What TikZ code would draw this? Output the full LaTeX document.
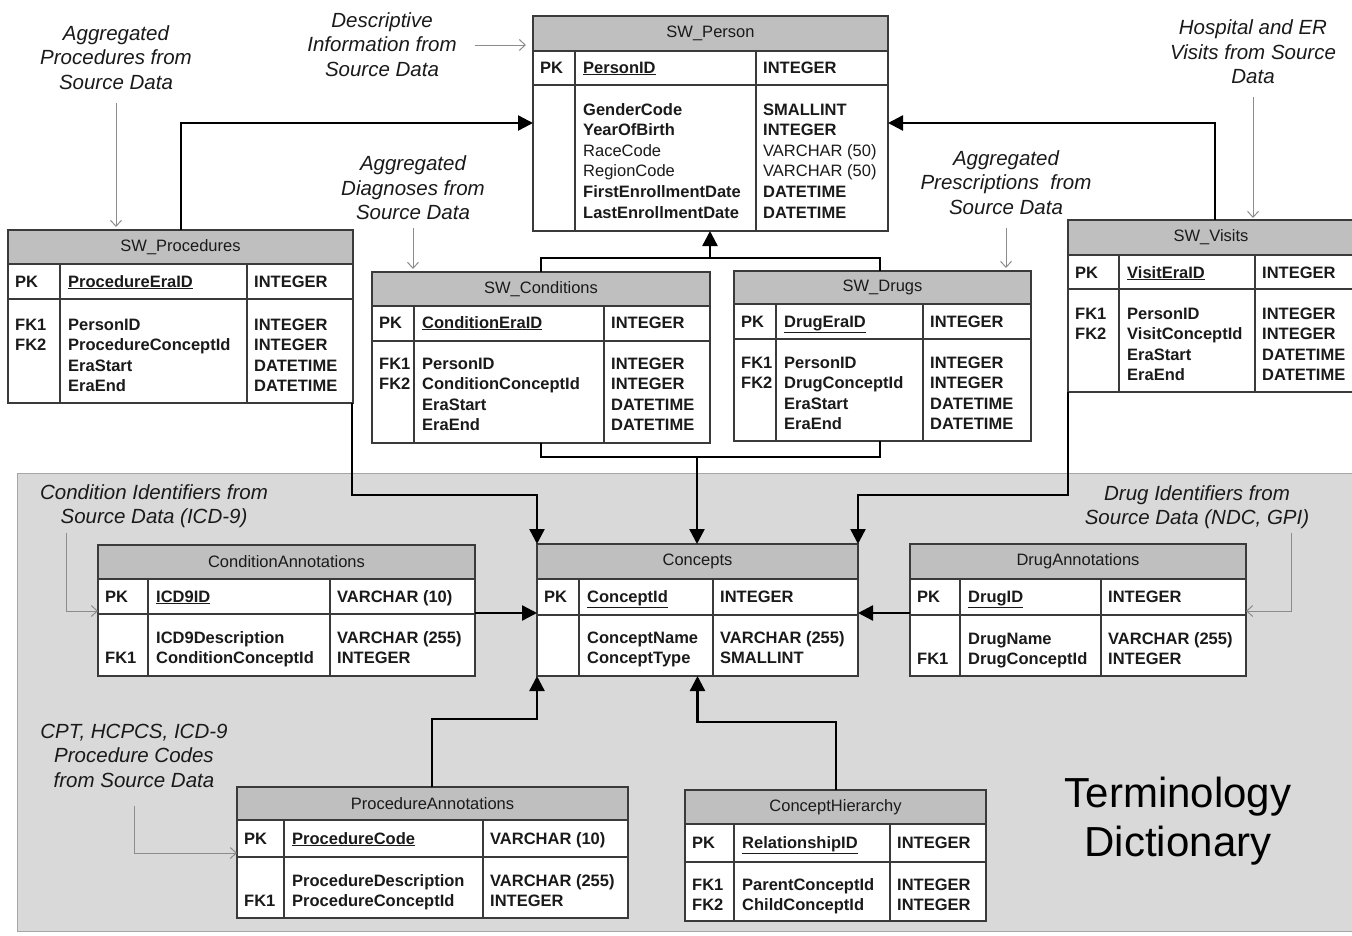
\documentclass[tikz,border=0pt]{standalone}
\usepackage{fontspec}
\setmainfont{Liberation Sans}
\usetikzlibrary{arrows.meta,fit}
\definecolor{bgfill}{HTML}{D9D9D9}
\definecolor{bgline}{HTML}{A6A6A6}
\definecolor{hdrfill}{HTML}{BFBFBF}
\definecolor{tlinec}{HTML}{3A3A3A}
\definecolor{garrow}{HTML}{8C8C8C}
\definecolor{ink}{HTML}{1A1A1A}
\tikzset{
  tline/.style={draw=tlinec, line width=1.4pt},
  conn/.style={draw=black, line width=2.4pt, -{Triangle[length=15pt,width=15pt]}},
  link/.style={draw=black, line width=2.4pt},
  inarr/.style={draw=garrow, line width=1pt, -{Straight Barb[length=6pt,width=11pt]}},
  ttitle/.style={font=\fontsize{16.5}{20}\selectfont, text=ink, inner sep=0pt},
  tcell/.style={font=\fontsize{16.5}{20.6}\selectfont\bfseries, text=ink, inner sep=0pt, anchor=base west},
  lbl/.style={font=\fontsize{20.5}{24.5}\selectfont\itshape, text=ink, align=center, inner sep=0pt},
  biglbl/.style={font=\fontsize{42}{49}\selectfont, text=black, align=center, inner sep=0pt},
}
\newcommand\erow[1]{\hbox{#1}}
\newcommand\erdtab[9]{%
  \node[fit={(#2,#3) (#4,#5)}, inner sep=0pt, outer sep=0pt] (#1) {};
  \fill[white] (#2,#3) rectangle (#4,#5);
  \fill[hdrfill] (#2,#3) rectangle (#4,#6);
  \draw[tline] (#2,#6) -- (#4,#6) (#2,#7) -- (#4,#7) (#8,#6) -- (#8,#5) (#9,#6) -- (#9,#5);
  \draw[tline] (#2,#3) rectangle (#4,#5);
  \def\erdX{#2}\def\erdY{#3}\def\erdXX{#4}\def\erdYH{#6}\def\erdCA{#8}\def\erdCB{#9}%
}
\newcommand\erdtxt[9]{%
  \node[ttitle] (#1-t) at ({(\erdX+\erdXX)/2},{(\erdY+\erdYH)/2}) {#2};
  \node[tcell] (#1-k) at ({\erdX+7},#8) {PK};
  \node[tcell] (#1-f) at ({\erdCA+8},#8) {\underline{#3}};
  \node[tcell] (#1-y) at ({\erdCB+7},#8) {#4};
  \node[tcell] (#1-bk) at ({\erdX+7},#9) {\vtop{#5}};
  \node[tcell] (#1-bf) at ({\erdCA+8},#9) {\vtop{#6}};
  \node[tcell] (#1-by) at ({\erdCB+7},#9) {\vtop{#7}};
}
\begin{document}
\begin{tikzpicture}[x=1pt,y=-1pt]
\useasboundingbox (0,0) rectangle (1352,935);
\fill[white] (0,0) rectangle (1352,935);
\filldraw[fill=bgfill, draw=bgline, line width=1pt] (17,473) rectangle (1362,931);

% tables
\erdtab{person}{533}{16}{888}{231}{51}{85}{575}{756}
\erdtxt{person}{SW\_Person}{PersonID}{INTEGER}{}{\erow{GenderCode}\erow{YearOfBirth}\erow{\mdseries RaceCode}\erow{\mdseries RegionCode}\erow{FirstEnrollmentDate}\erow{LastEnrollmentDate}}{\erow{SMALLINT}\erow{INTEGER}\erow{\mdseries VARCHAR (50)}\erow{\mdseries VARCHAR (50)}\erow{DATETIME}\erow{DATETIME}}{73}{115}

\erdtab{proc}{8}{230}{353}{403}{264}{299}{60}{247}
\erdtxt{proc}{SW\_Procedures}{ProcedureEraID}{INTEGER}{\erow{FK1}\erow{FK2}}{\erow{PersonID}\erow{ProcedureConceptId}\erow{EraStart}\erow{EraEnd}}{\erow{INTEGER}\erow{INTEGER}\erow{DATETIME}\erow{DATETIME}}{287}{330}

\erdtab{cond}{372}{272}{710}{443}{306}{341}{414}{604}
\erdtxt{cond}{SW\_Conditions}{ConditionEraID}{INTEGER}{\erow{FK1}\erow{FK2}}{\erow{PersonID}\erow{ConditionConceptId}\erow{EraStart}\erow{EraEnd}}{\erow{INTEGER}\erow{INTEGER}\erow{DATETIME}\erow{DATETIME}}{328}{369}

\erdtab{drugs}{734}{271}{1031}{441}{304}{339}{776}{923}
\erdtxt{drugs}{SW\_Drugs}{DrugEraID}{INTEGER}{\erow{FK1}\erow{FK2}}{\erow{PersonID}\erow{DrugConceptId}\erow{EraStart}\erow{EraEnd}}{\erow{INTEGER}\erow{INTEGER}\erow{DATETIME}\erow{DATETIME}}{327}{368}

\erdtab{visits}{1068}{220}{1354}{392}{255}{289}{1119}{1255}
\erdtxt{visits}{SW\_Visits}{VisitEraID}{INTEGER}{\erow{FK1}\erow{FK2}}{\erow{PersonID}\erow{VisitConceptId}\erow{EraStart}\erow{EraEnd}}{\erow{INTEGER}\erow{INTEGER}\erow{DATETIME}\erow{DATETIME}}{278}{319}

\erdtab{concepts}{537}{544}{858}{676}{579}{615}{579}{713}
\erdtxt{concepts}{Concepts}{ConceptId}{INTEGER}{}{\erow{ConceptName}\erow{ConceptType}}{\erow{VARCHAR (255)}\erow{SMALLINT}}{602}{643}

\erdtab{condann}{98}{545}{475}{676}{579}{614}{148}{330}
\erdtxt{condann}{ConditionAnnotations}{ICD9ID}{VARCHAR (10)}{\erow{}\erow{FK1}}{\erow{ICD9Description}\erow{ConditionConceptId}}{\erow{VARCHAR (255)}\erow{INTEGER}}{602}{643}

\erdtab{drugann}{910}{544}{1246}{676}{579}{615}{960}{1101}
\erdtxt{drugann}{DrugAnnotations}{DrugID}{INTEGER}{\erow{}\erow{FK1}}{\erow{DrugName}\erow{DrugConceptId}}{\erow{VARCHAR (255)}\erow{INTEGER}}{602}{644}

\erdtab{procann}{237}{787}{628}{918}{820}{857}{284}{483}
\erdtxt{procann}{ProcedureAnnotations}{ProcedureCode}{VARCHAR (10)}{\erow{}\erow{FK1}}{\erow{ProcedureDescription}\erow{ProcedureConceptId}}{\erow{VARCHAR (255)}\erow{INTEGER}}{844}{886}

\erdtab{hier}{685}{790}{986}{921}{824}{862}{734}{890}
\erdtxt{hier}{ConceptHierarchy}{RelationshipID}{INTEGER}{\erow{FK1}\erow{FK2}}{\erow{ParentConceptId}\erow{ChildConceptId}}{\erow{INTEGER}\erow{INTEGER}}{848}{890}

% connector waypoints
\coordinate (kP) at (181,123);
\coordinate (kV) at (1215,123);
\coordinate (kTL) at (541,258);
\coordinate (kTR) at (880,258);
\coordinate (kT) at (710,258);
\coordinate (kBL) at (541,457);
\coordinate (kBR) at (880,457);
\coordinate (kB) at (697,457);
\coordinate (kPL) at (352,495);
\coordinate (kVL) at (1068,495);
\coordinate (kCA) at (0,613);
\coordinate (kPA) at (432,719);
\coordinate (kH) at (836,722);

% connectors
\draw[conn] (proc.north -| kP) |- (person.west |- kP);
\draw[conn] (visits.north -| kV) |- (person.east |- kV);
\draw[link] (cond.north -| kTL) -- (kTL) -- (kTR) -- (drugs.north -| kTR);
\draw[conn] (kT) -- (person.south -| kT);
\draw[link] (cond.south -| kBL) -- (kBL) -- (kBR) -- (drugs.south -| kBR);
\draw[conn] (kB) -- (concepts.north -| kB);
\draw[conn] (proc.south -| kPL) -- (kPL) -| (concepts.north west);
\draw[conn] (visits.south -| kVL) -- (kVL) -| (concepts.north east);
\draw[conn] (condann.east |- kCA) -- (concepts.west |- kCA);
\draw[conn] (drugann.west |- kCA) -- (concepts.east |- kCA);
\draw[conn] (procann.north -| kPA) -- (kPA) -| (concepts.south west);
\draw[conn] (hier.north -| kH) -- (kH) -| (concepts.south);

% labels
\node[lbl] (lDesc) at (382,44.5) {Descriptive\\Information from\\Source Data};
\node[lbl] (lProc) at (116,57.5) {Aggregated\\Procedures from\\Source Data};
\node[lbl] (lDiag) at (413,188) {Aggregated\\Diagnoses from\\Source Data};
\node[lbl] (lPresc) at (1006,182.5) {Aggregated\\Prescriptions\ \ from\\Source Data};
\node[lbl] (lVis) at (1253,52) {Hospital and ER\\Visits from Source\\Data};
\node[lbl] (lCond) at (154,506) {Condition Identifiers from\\Source Data (ICD-9)};
\node[lbl] (lDrug) at (1197,507) {Drug Identifiers from\\Source Data (NDC, GPI)};
\node[lbl] (lCpt) at (134,755.5) {CPT, HCPCS, ICD-9\\Procedure Codes\\from Source Data};
\node[biglbl] (lTerm) at (1178,821.5) {Terminology\\Dictionary};

% grey input arrows
\coordinate (gD) at (475,45);
\coordinate (gP) at (116,103);
\coordinate (gDi) at (413,228);
\coordinate (gPr) at (1006,228);
\coordinate (gV) at (1253,97);
\coordinate (gC) at (66,533);
\coordinate (gDr) at (1291,533);
\coordinate (gCy) at (0,611);
\coordinate (gPc) at (134,806);
\coordinate (gPy) at (0,853);
\draw[inarr, shorten >=7pt] (gD) -- (person.west |- gD);
\draw[inarr, shorten >=3pt] (gP) -- (proc.north -| gP);
\draw[inarr, shorten >=3pt] (gDi) -- (cond.north -| gDi);
\draw[inarr, shorten >=3pt] (gPr) -- (drugs.north -| gPr);
\draw[inarr, shorten >=2pt] (gV) -- (visits.north -| gV);
\draw[inarr] (gC) |- (condann.west |- gCy);
\draw[inarr] (gDr) |- (drugann.east |- gCy);
\draw[inarr] (gPc) |- (procann.west |- gPy);
\end{tikzpicture}
\end{document}
